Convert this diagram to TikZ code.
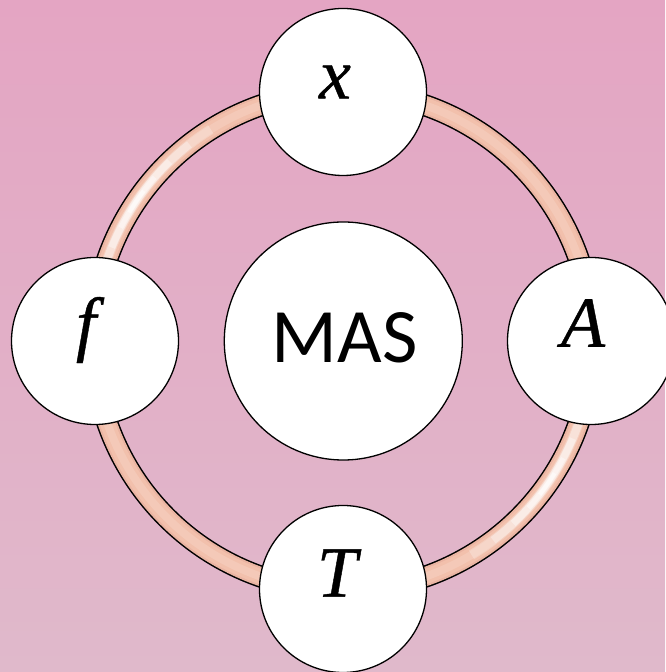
\documentclass[tikz,border=0pt]{standalone}
\usepackage{fontspec}
\setmainfont{Carlito}
\newfontfamily\letterfont{Liberation Serif}[FakeBold=0.6]
\definecolor{bgtop}{HTML}{E4A5C3}
\definecolor{bgbot}{HTML}{E0B9CB}
\definecolor{ringedge}{HTML}{EAB4A2}
\definecolor{ringfill}{HTML}{F2C0AC}
\definecolor{ringlight}{HTML}{F6D2C4}
\tikzset{
  bubble/.style={circle, draw=black, line width=1.3pt, fill=white, inner sep=0pt},
  smallbubble/.style={bubble, minimum size=167pt},
  bigbubble/.style={bubble, minimum size=238pt},
  letter/.style={font=\letterfont\itshape\fontsize{72}{72}\selectfont, inner sep=0pt},
  mastext/.style={font=\fontsize{77}{77}\selectfont, inner sep=0pt},
}
\begin{document}
\begin{tikzpicture}[x=1pt,y=1pt]
  \shade[top color=bgtop, bottom color=bgbot] (0,0) rectangle (665,672);
  \useasboundingbox (0,0) rectangle (665,672);
  \coordinate (c) at (343,331);
  % ring
  \draw[line width=22pt, black] (c) circle[radius=249.5];
  \draw[line width=19pt, ringedge] (c) circle[radius=249.5];
  \draw[line width=15pt, ringfill] (c) circle[radius=249.5];
  \draw[line width=8pt, ringlight, opacity=0.5] (c) circle[radius=249.5];
  % highlights
  \foreach \p in {146,-35}{
    \foreach \s/\w/\o in {24/10/0.25, 18/8/0.3, 12/7/0.35, 7/5/0.4, 3/4/0.5}{
      \draw[white, line width=\w pt, opacity=\o]
        (c) ++(\p-\s:249.5) arc[start angle=\p-\s, end angle=\p+\s, radius=249.5];
    }
  }
  % nodes
  \node[bigbubble] (mas) at (343.3,331) {};
  \node[smallbubble] (nx) at (343,580) {};
  \node[smallbubble] (nf) at (95,331) {};
  \node[smallbubble] (na) at (591,331) {};
  \node[smallbubble] (nt) at (343,83) {};
  % texts
  \node[mastext] (tmas) at ([shift={(1.5,3)}]mas.center) {MAS};
  \node[letter] (tx) at ([shift={(-8,10)}]nx.center) {x};
  \node[letter] (tf) at ([shift={(-9,11)}]nf.center) {f};
  \node[letter] (ta) at ([shift={(-8,18)}]na.center) {A};
  \node[letter] (tt) at ([shift={(-6,16)}]nt.center) {T};
\end{tikzpicture}
\end{document}
